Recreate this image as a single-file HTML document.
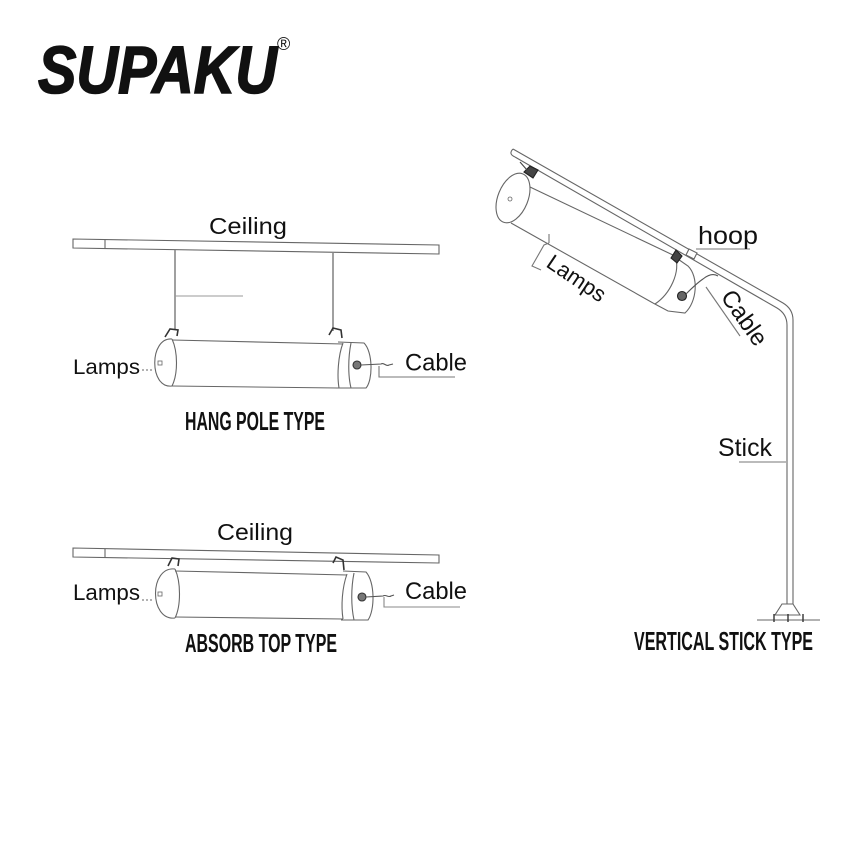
<!DOCTYPE html>
<html><head><meta charset="utf-8"><style>html,body{margin:0;padding:0;background:#fff;}svg{display:block}</style></head>
<body>
<svg width="850" height="850" viewBox="0 0 850 850" xmlns="http://www.w3.org/2000/svg">
<rect width="850" height="850" fill="#fff"/>

<!-- Logo -->
<text x="38" y="93" font-family="Liberation Sans, sans-serif" font-weight="bold" font-style="italic" font-size="67" textLength="239" lengthAdjust="spacingAndGlyphs" fill="#111" stroke="#111" stroke-width="1.6">SUPAKU</text>
<text x="277" y="50" font-family="Liberation Sans, sans-serif" font-size="18" fill="#111">®</text>

<!-- ===== HANG POLE TYPE ===== -->
<g fill="none" stroke="#666" stroke-width="1.1">
  <path d="M73 239 L439 245 L439 254 L73 248 Z" fill="#fff"/>
  <path d="M105 239.5 V248.5"/>
  <path d="M175 250 V329" stroke="#888" stroke-width="1.6"/>
  <path d="M333 253 V331" stroke="#888" stroke-width="1.6"/>
  <path d="M175 296 H243" stroke="#999"/>
  <!-- body -->
  <path d="M172 340 L343 344" />
  <path d="M172 386 L338 388" />
  <!-- left cap -->
  <path d="M172 339 C149 337 149 389 172 386" />
  <path d="M172 339 C178 352 178 374 172 386" />
  <rect x="158" y="361" width="4" height="4" stroke-width="0.8"/>
  <!-- right cap -->
  <path d="M343 343 C338 356 337 376 339 388" />
  <path d="M338 342 L364 343 C373 352 373 380 366 388 L336 388" />
  <path d="M351 343 C348 358 348 376 351 388" />
  <!-- clamps -->
  <path d="M165 337 L170 329 L178 330 L177 336" stroke="#333" stroke-width="1.6"/>
  <path d="M329 335 L333 328 L341 330 L342 338" stroke="#333" stroke-width="1.6"/>
  <!-- nut & wire -->
  <circle cx="357" cy="365" r="4" fill="#777" stroke="#333"/>
  <path d="M361 365 L381 364 C384 362 386 367 389 365 L393 364" stroke="#555"/>
  <!-- leaders -->
  <path d="M142 370 H153" stroke-dasharray="2 2"/>
  <path d="M379 366 V377 H455" stroke="#777"/>
</g>
<g font-family="Liberation Sans, sans-serif" fill="#111">
  <text x="209" y="234" font-size="23" textLength="78" lengthAdjust="spacingAndGlyphs">Ceiling</text>
  <text x="73" y="374" font-size="21" textLength="67" lengthAdjust="spacingAndGlyphs">Lamps</text>
  <text x="405" y="370.5" font-size="24" textLength="62" lengthAdjust="spacingAndGlyphs">Cable</text>
  <text x="185" y="430" font-size="26" font-weight="bold" textLength="140" lengthAdjust="spacingAndGlyphs">HANG POLE TYPE</text>
</g>

<!-- ===== ABSORB TOP TYPE ===== -->
<g fill="none" stroke="#666" stroke-width="1.1">
  <path d="M73 548 L439 555 L439 563 L73 557 Z" fill="#fff"/>
  <path d="M105 548.5 V557"/>
  <!-- body -->
  <path d="M175 571 L347 575" />
  <path d="M175 617 L343 619" />
  <!-- left cap -->
  <path d="M175 569 C149 566 149 621 175 618" />
  <path d="M175 569 C181 582 181 606 175 618" />
  <rect x="158" y="592" width="4" height="4" stroke-width="0.8"/>
  <!-- right cap -->
  <path d="M347 574 C342 588 341 606 343 619" />
  <path d="M343 571 L366 572 C375 582 375 610 368 620 L341 620" />
  <path d="M354 573 C351 588 351 606 354 620" />
  <!-- clamps -->
  <path d="M168 566 L172 558 L179 559 L178 566" stroke="#333" stroke-width="1.6"/>
  <path d="M333 563 L336 557 L343 560 L344 570" stroke="#333" stroke-width="1.6"/>
  <!-- nut & wire -->
  <circle cx="362" cy="597" r="4" fill="#777" stroke="#333"/>
  <path d="M366 597 L383 596 C386 594 388 598 391 596 L394 595" stroke="#555"/>
  <!-- leaders -->
  <path d="M142 600 H153" stroke-dasharray="2 2"/>
  <path d="M384 597 V607 H460" stroke="#888"/>
</g>
<g font-family="Liberation Sans, sans-serif" fill="#111">
  <text x="217" y="540" font-size="23" textLength="76" lengthAdjust="spacingAndGlyphs">Ceiling</text>
  <text x="73" y="600" font-size="22" textLength="67" lengthAdjust="spacingAndGlyphs">Lamps</text>
  <text x="405" y="599" font-size="24" textLength="62" lengthAdjust="spacingAndGlyphs">Cable</text>
  <text x="185" y="652" font-size="26" font-weight="bold" textLength="152" lengthAdjust="spacingAndGlyphs">ABSORB TOP TYPE</text>
</g>

<!-- ===== VERTICAL STICK TYPE ===== -->
<g fill="none" stroke="#666" stroke-width="1.1">
  <!-- bar -->
  <path d="M513 149 L783 303 Q793 309 793 320 V604"/>
  <path d="M515 157 L777 308 Q787 314 787 325 V604"/>
  <path d="M513 149 Q508 154 515 157"/>
  <!-- base -->
  <path d="M782 604 L793 604 L800 615 L775 615 Z" fill="#fff"/>
  <path d="M757 620 H820"/>
  <path d="M774 614 V622 M788 614 V622 M803 614 V622" stroke="#333" stroke-width="1.4"/>
  <!-- hoop -->
  <path d="M689 249 L697 253 L694 259 L686 255 Z" fill="#fff"/>
  <!-- cylinder -->
  <path d="M530 187 L675 256"/>
  <path d="M511 223 L653 303"/>
  <ellipse cx="513" cy="198" rx="15" ry="26" transform="rotate(22 513 198)" fill="#fff"/>
  <path d="M675 256 C681 272 670 294 655 304"/>
  <path d="M675 257 L688 266 C699 277 697 302 685 313 L668 311 L653 303"/>
  <circle cx="510" cy="199" r="2" stroke-width="0.8"/>
  <!-- clips -->
  <path d="M524 172 L530 166 L538 170 L533 178 Z" fill="#444" stroke="#222"/>
  <path d="M520 162 L527 170" stroke="#444"/>
  <path d="M671 258 L676 250 L682 256 L677 263 Z" fill="#444" stroke="#222"/>
  <!-- nut & wire -->
  <circle cx="682" cy="296" r="4.5" fill="#666" stroke="#222"/>
  <path d="M686 294 C692 288 697 283 703 279 C708 275 713 273 718 276" stroke="#555"/>
  <!-- leaders -->
  <path d="M696 249 H750" stroke="#777"/>
  <path d="M706 287 L740 336" stroke="#777"/>
  <path d="M549 234 V243 M549 243 L544 245 L532 266 L541 270" stroke="#777"/>
  <path d="M739 462 H786" stroke="#777"/>
</g>
<g font-family="Liberation Sans, sans-serif" fill="#111">
  <text x="698" y="244" font-size="25" textLength="60" lengthAdjust="spacingAndGlyphs">hoop</text>
  <text x="718" y="456" font-size="25" textLength="54" lengthAdjust="spacingAndGlyphs">Stick</text>
  <text transform="translate(545 266) rotate(34)" font-size="22" textLength="66" lengthAdjust="spacingAndGlyphs">Lamps</text>
  <text transform="translate(720 297) rotate(55)" font-size="24" textLength="62" lengthAdjust="spacingAndGlyphs">Cable</text>
  <text x="634" y="650" font-size="26" font-weight="bold" textLength="179" lengthAdjust="spacingAndGlyphs">VERTICAL STICK TYPE</text>
</g>
</svg>
</body></html>
